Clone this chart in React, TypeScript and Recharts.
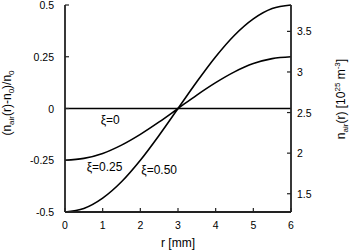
import React from 'react';
import {
  ComposedChart,
  Line,
  XAxis,
  YAxis,
  ReferenceDot,
  Label,
} from 'recharts';

// radius r [mm]
const rValues = [0, 0.5, 1, 1.5, 2, 2.5, 3, 3.5, 4, 4.5, 5, 5.5, 6];
// (n_air(r) - n_0) / n_0
const xi000 = [0, 0, 0, 0, 0, 0, 0, 0, 0, 0, 0, 0, 0];
const xi025 = [-0.25, -0.241, -0.217, -0.177, -0.125, -0.065, 0, 0.065, 0.125, 0.177, 0.217, 0.241, 0.25];
const xi050 = [-0.5, -0.483, -0.433, -0.354, -0.25, -0.129, 0, 0.129, 0.25, 0.354, 0.433, 0.483, 0.5];

const xTicks = [0, 1, 2, 3, 4, 5, 6];
const leftTicks = [-0.5, -0.25, 0, 0.25, 0.5];
const leftTickLabels = ['-0.5', '-0.25', '0', '0.25', '0.5'];
const rightTicks = [1.5, 2, 2.5, 3, 3.5];
const rightTickLabels = ['1.5', '2', '2.5', '3', '3.5'];

const curveLabels = ['\u03be=0', '\u03be=0.25', '\u03be=0.50'];
const curveLabelR = [1.2, 1.05, 2.5];
const curveLabelY = [-0.056, -0.283, -0.297];

const data = rValues.map((r, i) => ({
  r,
  xi000: xi000[i],
  xi025: xi025[i],
  xi050: xi050[i],
}));

const FONT = '"Liberation Sans", Arial, sans-serif';
const INK = '#000';
const FRAME = '#222';

function BottomTick(props: any) {
  const { x, y, payload } = props;
  return (
    <g>
      <line x1={x} y1={y} x2={x} y2={y - 4} stroke={FRAME} strokeWidth={1.2} />
      <text x={x} y={y + 17} textAnchor="middle" fontSize={10.5} fontFamily={FONT} fill={INK}>
        {payload.value}
      </text>
    </g>
  );
}

function TopTick(props: any) {
  const { x, y } = props;
  return <line x1={x} y1={y} x2={x} y2={y + 4} stroke={FRAME} strokeWidth={1.2} />;
}

function LeftTick(props: any) {
  const { x, y, payload } = props;
  const idx = leftTicks.indexOf(payload.value);
  return (
    <g>
      <line x1={x} y1={y} x2={x + 4} y2={y} stroke={FRAME} strokeWidth={1.2} />
      <text x={x - 11} y={y + 4} textAnchor="end" fontSize={10.5} fontFamily={FONT} fill={INK}>
        {leftTickLabels[idx] ?? payload.value}
      </text>
    </g>
  );
}

function RightTick(props: any) {
  const { x, y, payload } = props;
  const idx = rightTicks.indexOf(payload.value);
  return (
    <g>
      <line x1={x} y1={y} x2={x - 4} y2={y} stroke={FRAME} strokeWidth={1.2} />
      <text x={x + 6} y={y + 4} textAnchor="start" fontSize={10.5} fontFamily={FONT} fill={INK}>
        {rightTickLabels[idx] ?? payload.value}
      </text>
    </g>
  );
}

function LeftTitle() {
  return (
    <text
      transform="translate(11,103) rotate(-90)"
      textAnchor="middle"
      fontSize={12}
      fontFamily={FONT}
      fill={INK}
    >
      (n<tspan fontSize={8} dy={3}>air</tspan>
      <tspan dy={-3}>(r)-n</tspan>
      <tspan fontSize={8} dy={3}>0</tspan>
      <tspan dy={-3}>)/n</tspan>
      <tspan fontSize={8} dy={3}>0</tspan>
    </text>
  );
}

function RightTitle() {
  return (
    <text
      transform="translate(345,99) rotate(-90)"
      textAnchor="middle"
      fontSize={12}
      fontFamily={FONT}
      fill={INK}
    >
      n<tspan fontSize={8} dy={3}>air</tspan>
      <tspan dy={-3}>(r) [10</tspan>
      <tspan fontSize={8} dy={-5}>25</tspan>
      <tspan dy={5}> m</tspan>
      <tspan fontSize={8} dy={-5}>-3</tspan>
      <tspan dy={5}>]</tspan>
    </text>
  );
}

function BottomTitle() {
  return (
    <text x={178} y={247} textAnchor="middle" fontSize={12} fontFamily={FONT} fill={INK}>
      r [mm]
    </text>
  );
}

export default function App() {
  return (
    <div style={{ position: 'absolute', left: 0, top: 0, width: 350, height: 250, background: '#fff' }}>
      <ComposedChart
        width={350}
        height={250}
        data={data}
        margin={{ top: 5, right: 0, bottom: 0, left: 0 }}
      >
        <XAxis
          dataKey="r"
          type="number"
          domain={[0, 6]}
          ticks={xTicks}
          height={38}
          axisLine={{ stroke: FRAME, strokeWidth: 1.8 }}
          tickLine={false}
          tickSize={0}
          tickMargin={0}
          tick={<BottomTick />}
          interval={0}
        >
          <Label content={() => <BottomTitle />} />
        </XAxis>
        <XAxis
          xAxisId="top"
          orientation="top"
          dataKey="r"
          type="number"
          domain={[0, 6]}
          ticks={xTicks}
          height={0}
          axisLine={{ stroke: FRAME, strokeWidth: 1.8 }}
          tickLine={false}
          tickSize={0}
          tickMargin={0}
          tick={<TopTick />}
          interval={0}
        />
        <YAxis
          yAxisId="left"
          type="number"
          domain={[-0.5, 0.5]}
          ticks={leftTicks}
          width={65}
          axisLine={{ stroke: FRAME, strokeWidth: 1.8 }}
          tickLine={false}
          tickSize={0}
          tickMargin={0}
          tick={<LeftTick />}
          interval={0}
        >
          <Label content={() => <LeftTitle />} />
        </YAxis>
        <YAxis
          yAxisId="right"
          orientation="right"
          type="number"
          domain={[1.275, 3.825]}
          ticks={rightTicks}
          width={59}
          axisLine={{ stroke: FRAME, strokeWidth: 1.8 }}
          tickLine={false}
          tickSize={0}
          tickMargin={0}
          tick={<RightTick />}
          interval={0}
          allowDataOverflow
        >
          <Label content={() => <RightTitle />} />
        </YAxis>
        <Line yAxisId="left" type="monotone" dataKey="xi000" stroke={INK} strokeWidth={1.6} dot={false} isAnimationActive={false} />
        <Line yAxisId="left" type="monotone" dataKey="xi025" stroke={INK} strokeWidth={1.6} dot={false} isAnimationActive={false} />
        <Line yAxisId="left" type="monotone" dataKey="xi050" stroke={INK} strokeWidth={1.6} dot={false} isAnimationActive={false} />
        {curveLabels.map((txt, i) => (
          <ReferenceDot
            key={txt}
            yAxisId="left"
            x={curveLabelR[i]}
            y={curveLabelY[i]}
            r={0}
            shape={(p: any) => (
              <text
                x={p.cx}
                y={p.cy}
                textAnchor="middle"
                dominantBaseline="central"
                fontSize={12}
                fontFamily={FONT}
                fill={INK}
              >
                {txt}
              </text>
            )}
          />
        ))}
      </ComposedChart>
    </div>
  );
}
